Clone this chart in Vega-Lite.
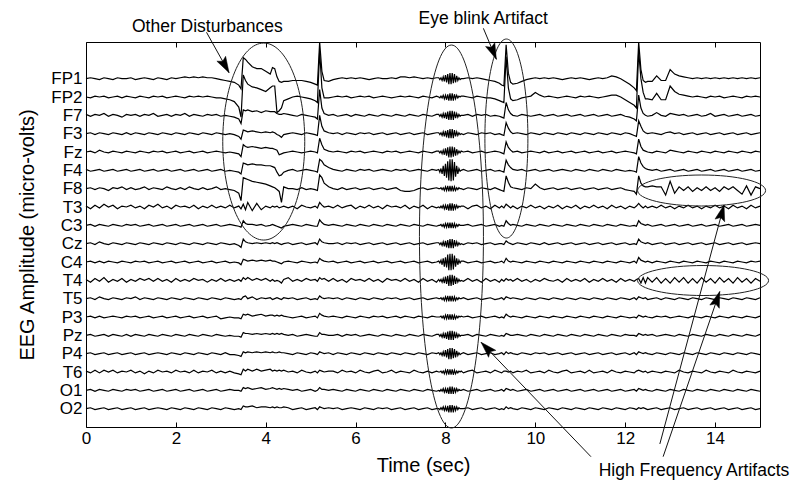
{
"$schema":"https://vega.github.io/schema/vega-lite/v6.json",
"width":674,"height":385,
"autosize":{"type":"none"},
"padding":{"left":86,"top":42,"right":35,"bottom":54},
"config":{"view":{"stroke":"black","strokeWidth":1},"font":"Liberation Sans","axis":{"labelFont":"Liberation Sans","titleFont":"Liberation Sans","labelColor":"black","titleColor":"black","tickColor":"black","domain":false,"grid":false,"titleFontWeight":"normal"}},
"datasets":{"eeg":[
{"t":0,"FP1":380,"FP2":360,"F7":341,"F3":320,"Fz":300,"F4":281,"F8":260,"T3":241,"C3":220,"Cz":200,"C4":180,"T4":161,"T5":140,"P3":120,"Pz":100,"P4":80,"T6":61,"O1":40,"O2":20},
{"t":0.1,"FP1":381,"FP2":359,"F7":339,"F3":321,"Fz":301,"F4":279,"F8":261,"T3":238,"C3":221,"Cz":201,"C4":181,"T4":158,"T5":141,"P3":121,"Pz":101,"P4":81,"T6":59,"O1":41,"O2":21},
{"t":0.2,"FP1":380,"FP2":361,"F7":341,"F3":319,"Fz":299,"F4":280,"F8":259,"T3":242,"C3":219,"Cz":199,"C4":179,"T4":162,"T5":139,"P3":119,"Pz":99,"P4":79,"T6":62,"O1":39,"O2":19},
{"t":0.3,"FP1":379,"FP2":360,"F7":340,"F3":321,"Fz":302,"F4":281,"F8":261,"T3":239,"C3":221,"Cz":202,"C4":181,"T4":159,"T5":142,"P3":121,"Pz":100,"P4":80,"T6":59,"O1":41,"O2":20},
{"t":0.4,"FP1":381,"FP2":361,"F7":342,"F3":320,"Fz":300,"F4":279,"F8":260,"T3":243,"C3":220,"Cz":200,"C4":179,"T4":163,"T5":140,"P3":119,"Pz":101,"P4":81,"T6":62,"O1":40,"O2":21},
{"t":0.5,"FP1":380,"FP2":359,"F7":339,"F3":319,"Fz":299,"F4":280,"F8":258,"T3":240,"C3":219,"Cz":199,"C4":181,"T4":158,"T5":139,"P3":120,"Pz":99,"P4":79,"T6":60,"O1":39,"O2":19},
{"t":0.6,"FP1":379,"FP2":360,"F7":341,"F3":321,"Fz":301,"F4":281,"F8":261,"T3":242,"C3":221,"Cz":201,"C4":180,"T4":161,"T5":141,"P3":121,"Pz":101,"P4":80,"T6":62,"O1":41,"O2":20},
{"t":0.7,"FP1":381,"FP2":361,"F7":340,"F3":320,"Fz":300,"F4":279,"F8":260,"T3":238,"C3":220,"Cz":200,"C4":179,"T4":159,"T5":140,"P3":120,"Pz":100,"P4":81,"T6":59,"O1":40,"O2":21},
{"t":0.8,"FP1":380,"FP2":359,"F7":338,"F3":319,"Fz":299,"F4":280,"F8":262,"T3":241,"C3":219,"Cz":199,"C4":181,"T4":162,"T5":139,"P3":119,"Pz":99,"P4":79,"T6":61,"O1":39,"O2":19},
{"t":0.9,"FP1":380,"FP2":361,"F7":341,"F3":321,"Fz":301,"F4":281,"F8":259,"T3":240,"C3":221,"Cz":201,"C4":180,"T4":158,"T5":141,"P3":121,"Pz":101,"P4":80,"T6":60,"O1":41,"O2":20},
{"t":1.0,"FP1":381,"FP2":360,"F7":340,"F3":319,"Fz":300,"F4":279,"F8":261,"T3":242,"C3":220,"Cz":200,"C4":179,"T4":161,"T5":140,"P3":120,"Pz":99,"P4":81,"T6":62,"O1":40,"O2":21},
{"t":1.1,"FP1":379,"FP2":359,"F7":341,"F3":321,"Fz":299,"F4":280,"F8":259,"T3":239,"C3":221,"Cz":199,"C4":181,"T4":159,"T5":142,"P3":121,"Pz":101,"P4":79,"T6":59,"O1":41,"O2":19},
{"t":1.2,"FP1":380,"FP2":361,"F7":339,"F3":320,"Fz":301,"F4":281,"F8":260,"T3":241,"C3":219,"Cz":201,"C4":180,"T4":162,"T5":139,"P3":119,"Pz":100,"P4":80,"T6":61,"O1":39,"O2":20},
{"t":1.3,"FP1":381,"FP2":360,"F7":341,"F3":319,"Fz":300,"F4":279,"F8":262,"T3":238,"C3":220,"Cz":200,"C4":181,"T4":160,"T5":141,"P3":120,"Pz":99,"P4":81,"T6":58,"O1":40,"O2":21},
{"t":1.4,"FP1":380,"FP2":359,"F7":340,"F3":321,"Fz":299,"F4":280,"F8":259,"T3":242,"C3":221,"Cz":199,"C4":179,"T4":162,"T5":140,"P3":121,"Pz":101,"P4":79,"T6":61,"O1":41,"O2":19},
{"t":1.5,"FP1":379,"FP2":361,"F7":342,"F3":320,"Fz":301,"F4":281,"F8":261,"T3":240,"C3":219,"Cz":201,"C4":180,"T4":159,"T5":139,"P3":119,"Pz":100,"P4":80,"T6":59,"O1":39,"O2":20},
{"t":1.6,"FP1":381,"FP2":360,"F7":339,"F3":319,"Fz":300,"F4":279,"F8":260,"T3":243,"C3":220,"Cz":200,"C4":181,"T4":162,"T5":141,"P3":120,"Pz":99,"P4":81,"T6":62,"O1":40,"O2":21},
{"t":1.7,"FP1":380,"FP2":361,"F7":340,"F3":321,"Fz":301,"F4":280,"F8":259,"T3":239,"C3":221,"Cz":199,"C4":179,"T4":159,"T5":140,"P3":121,"Pz":101,"P4":80,"T6":60,"O1":41,"O2":20},
{"t":1.8,"FP1":379,"FP2":359,"F7":341,"F3":320,"Fz":299,"F4":281,"F8":262,"T3":241,"C3":219,"Cz":201,"C4":180,"T4":161,"T5":139,"P3":119,"Pz":100,"P4":79,"T6":61,"O1":39,"O2":19},
{"t":1.9,"FP1":381,"FP2":360,"F7":339,"F3":319,"Fz":300,"F4":279,"F8":260,"T3":238,"C3":220,"Cz":200,"C4":181,"T4":158,"T5":141,"P3":120,"Pz":99,"P4":81,"T6":59,"O1":40,"O2":21},
{"t":2.0,"FP1":380,"FP2":361,"F7":341,"F3":321,"Fz":301,"F4":280,"F8":259,"T3":242,"C3":221,"Cz":199,"C4":179,"T4":162,"T5":140,"P3":121,"Pz":101,"P4":80,"T6":62,"O1":41,"O2":20},
{"t":2.1,"FP1":381,"FP2":360,"F7":340,"F3":320,"Fz":299,"F4":281,"F8":261,"T3":240,"C3":219,"Cz":201,"C4":180,"T4":159,"T5":139,"P3":119,"Pz":100,"P4":79,"T6":60,"O1":39,"O2":19},
{"t":2.2,"FP1":382,"FP2":359,"F7":342,"F3":319,"Fz":300,"F4":279,"F8":259,"T3":241,"C3":220,"Cz":200,"C4":181,"T4":161,"T5":141,"P3":120,"Pz":99,"P4":81,"T6":61,"O1":40,"O2":21},
{"t":2.3,"FP1":381,"FP2":361,"F7":339,"F3":321,"Fz":301,"F4":280,"F8":262,"T3":239,"C3":221,"Cz":199,"C4":179,"T4":159,"T5":140,"P3":121,"Pz":101,"P4":80,"T6":59,"O1":41,"O2":20},
{"t":2.4,"FP1":382,"FP2":360,"F7":341,"F3":320,"Fz":299,"F4":281,"F8":260,"T3":242,"C3":219,"Cz":201,"C4":180,"T4":162,"T5":139,"P3":119,"Pz":100,"P4":79,"T6":62,"O1":39,"O2":19},
{"t":2.5,"FP1":381,"FP2":361,"F7":340,"F3":319,"Fz":300,"F4":279,"F8":259,"T3":238,"C3":220,"Cz":200,"C4":181,"T4":160,"T5":141,"P3":120,"Pz":99,"P4":81,"T6":59,"O1":40,"O2":21},
{"t":2.6,"FP1":382,"FP2":360,"F7":339,"F3":321,"Fz":301,"F4":280,"F8":261,"T3":241,"C3":221,"Cz":199,"C4":179,"T4":161,"T5":140,"P3":121,"Pz":101,"P4":80,"T6":61,"O1":41,"O2":20},
{"t":2.7,"FP1":381,"FP2":361,"F7":341,"F3":320,"Fz":299,"F4":281,"F8":259,"T3":239,"C3":219,"Cz":201,"C4":180,"T4":158,"T5":139,"P3":119,"Pz":100,"P4":79,"T6":60,"O1":39,"O2":19},
{"t":2.8,"FP1":381,"FP2":360,"F7":340,"F3":319,"Fz":300,"F4":279,"F8":260,"T3":242,"C3":220,"Cz":200,"C4":181,"T4":161,"T5":141,"P3":120,"Pz":99,"P4":81,"T6":62,"O1":40,"O2":21},
{"t":2.9,"FP1":380,"FP2":359,"F7":341,"F3":321,"Fz":301,"F4":280,"F8":262,"T3":239,"C3":221,"Cz":199,"C4":179,"T4":159,"T5":140,"P3":121,"Pz":101,"P4":80,"T6":59,"O1":41,"O2":20},
{"t":3.0,"FP1":379,"FP2":359,"F7":339,"F3":320,"Fz":300,"F4":281,"F8":259,"T3":241,"C3":219,"Cz":201,"C4":180,"T4":162,"T5":139,"P3":118,"Pz":100,"P4":79,"T6":61,"O1":39,"O2":19},
{"t":3.1,"FP1":378,"FP2":358,"F7":340,"F3":319,"Fz":299,"F4":279,"F8":260,"T3":239,"C3":220,"Cz":200,"C4":181,"T4":159,"T5":141,"P3":119,"Pz":99,"P4":81,"T6":59,"O1":40,"O2":21},
{"t":3.2,"FP1":377,"FP2":357,"F7":339,"F3":320,"Fz":300,"F4":280,"F8":259,"T3":242,"C3":221,"Cz":199,"C4":179,"T4":161,"T5":140,"P3":120,"Pz":100,"P4":79,"T6":61,"O1":41,"O2":20},
{"t":3.3,"FP1":376,"FP2":355,"F7":338,"F3":319,"Fz":299,"F4":279,"F8":258,"T3":239,"C3":220,"Cz":200,"C4":180,"T4":159,"T5":139,"P3":119,"Pz":99,"P4":79,"T6":59,"O1":40,"O2":19},
{"t":3.4,"FP1":373,"FP2":349,"F7":336,"F3":317,"Fz":298,"F4":278,"F8":255,"T3":241,"C3":219,"Cz":198,"C4":179,"T4":161,"T5":140,"P3":119,"Pz":99,"P4":78,"T6":58,"O1":40,"O2":20},
{"t":3.45,"FP1":369,"FP2":338,"F7":331,"F3":314,"Fz":295,"F4":276,"F8":247,"T3":238,"C3":218,"Cz":196,"C4":177,"T4":159,"T5":139,"P3":118,"Pz":98,"P4":77,"T6":57,"O1":39,"O2":19},
{"t":3.5,"FP1":403,"FP2":384,"F7":346,"F3":324,"Fz":308,"F4":288,"F8":272,"T3":243,"C3":225,"Cz":205,"C4":183,"T4":163,"T5":142,"P3":123,"Pz":103,"P4":82,"T6":63,"O1":43,"O2":23},
{"t":3.55,"FP1":401,"FP2":378,"F7":345,"F3":323,"Fz":306,"F4":287,"F8":271,"T3":237,"C3":222,"Cz":202,"C4":182,"T4":161,"T5":143,"P3":122,"Pz":102,"P4":81,"T6":61,"O1":42,"O2":22},
{"t":3.6,"FP1":398,"FP2":374,"F7":346,"F3":322,"Fz":305,"F4":286,"F8":270,"T3":245,"C3":221,"Cz":201,"C4":181,"T4":163,"T5":140,"P3":123,"Pz":102,"P4":82,"T6":63,"O1":43,"O2":22},
{"t":3.7,"FP1":393,"FP2":371,"F7":344,"F3":323,"Fz":306,"F4":287,"F8":268,"T3":236,"C3":221,"Cz":200,"C4":182,"T4":160,"T5":142,"P3":121,"Pz":101,"P4":81,"T6":61,"O1":41,"O2":23},
{"t":3.8,"FP1":391,"FP2":370,"F7":345,"F3":322,"Fz":305,"F4":286,"F8":267,"T3":244,"C3":220,"Cz":201,"C4":181,"T4":162,"T5":139,"P3":122,"Pz":102,"P4":82,"T6":63,"O1":42,"O2":21},
{"t":3.9,"FP1":391,"FP2":368,"F7":343,"F3":321,"Fz":304,"F4":286,"F8":266,"T3":237,"C3":221,"Cz":200,"C4":182,"T4":160,"T5":141,"P3":123,"Pz":101,"P4":81,"T6":61,"O1":43,"O2":22},
{"t":4.0,"FP1":388,"FP2":366,"F7":345,"F3":322,"Fz":305,"F4":285,"F8":265,"T3":241,"C3":219,"Cz":201,"C4":181,"T4":162,"T5":140,"P3":121,"Pz":102,"P4":82,"T6":62,"O1":41,"O2":22},
{"t":4.1,"FP1":385,"FP2":370,"F7":344,"F3":321,"Fz":304,"F4":285,"F8":263,"T3":239,"C3":220,"Cz":200,"C4":182,"T4":159,"T5":141,"P3":122,"Pz":101,"P4":81,"T6":63,"O1":42,"O2":21},
{"t":4.15,"FP1":392,"FP2":372,"F7":344,"F3":322,"Fz":304,"F4":284,"F8":262,"T3":241,"C3":221,"Cz":201,"C4":181,"T4":161,"T5":139,"P3":122,"Pz":102,"P4":82,"T6":61,"O1":43,"O2":22},
{"t":4.2,"FP1":391,"FP2":372,"F7":344,"F3":321,"Fz":303,"F4":283,"F8":261,"T3":240,"C3":220,"Cz":200,"C4":181,"T4":159,"T5":140,"P3":121,"Pz":101,"P4":81,"T6":62,"O1":42,"O2":21},
{"t":4.25,"FP1":382,"FP2":343,"F7":342,"F3":319,"Fz":302,"F4":278,"F8":259,"T3":241,"C3":219,"Cz":201,"C4":180,"T4":160,"T5":141,"P3":122,"Pz":102,"P4":81,"T6":61,"O1":41,"O2":22},
{"t":4.3,"FP1":377,"FP2":345,"F7":341,"F3":318,"Fz":297,"F4":274,"F8":257,"T3":239,"C3":218,"Cz":200,"C4":179,"T4":159,"T5":140,"P3":121,"Pz":101,"P4":82,"T6":62,"O1":42,"O2":21},
{"t":4.35,"FP1":376,"FP2":348,"F7":341,"F3":316,"Fz":298,"F4":275,"F8":245,"T3":240,"C3":217,"Cz":199,"C4":178,"T4":157,"T5":139,"P3":122,"Pz":102,"P4":81,"T6":61,"O1":41,"O2":21},
{"t":4.4,"FP1":377,"FP2":356,"F7":342,"F3":319,"Fz":299,"F4":278,"F8":262,"T3":241,"C3":219,"Cz":200,"C4":180,"T4":161,"T5":141,"P3":121,"Pz":101,"P4":81,"T6":62,"O1":42,"O2":22},
{"t":4.5,"FP1":377,"FP2":358,"F7":341,"F3":320,"Fz":300,"F4":280,"F8":260,"T3":239,"C3":220,"Cz":201,"C4":181,"T4":163,"T5":140,"P3":120,"Pz":100,"P4":80,"T6":60,"O1":41,"O2":21},
{"t":4.6,"FP1":378,"FP2":360,"F7":340,"F3":321,"Fz":301,"F4":281,"F8":260,"T3":241,"C3":221,"Cz":199,"C4":180,"T4":159,"T5":141,"P3":119,"Pz":101,"P4":79,"T6":61,"O1":40,"O2":19},
{"t":4.7,"FP1":378,"FP2":361,"F7":339,"F3":320,"Fz":300,"F4":279,"F8":259,"T3":238,"C3":220,"Cz":200,"C4":179,"T4":161,"T5":139,"P3":120,"Pz":99,"P4":81,"T6":59,"O1":41,"O2":20},
{"t":4.8,"FP1":378,"FP2":360,"F7":341,"F3":319,"Fz":299,"F4":280,"F8":261,"T3":242,"C3":219,"Cz":201,"C4":181,"T4":159,"T5":140,"P3":121,"Pz":100,"P4":80,"T6":62,"O1":39,"O2":21},
{"t":4.9,"FP1":377,"FP2":359,"F7":340,"F3":321,"Fz":300,"F4":281,"F8":259,"T3":240,"C3":221,"Cz":199,"C4":180,"T4":162,"T5":141,"P3":119,"Pz":101,"P4":79,"T6":60,"O1":40,"O2":19},
{"t":5.0,"FP1":376,"FP2":358,"F7":339,"F3":320,"Fz":301,"F4":280,"F8":260,"T3":239,"C3":220,"Cz":200,"C4":179,"T4":160,"T5":139,"P3":120,"Pz":100,"P4":81,"T6":59,"O1":41,"O2":20},
{"t":5.1,"FP1":374,"FP2":356,"F7":338,"F3":319,"Fz":300,"F4":279,"F8":259,"T3":241,"C3":219,"Cz":201,"C4":180,"T4":161,"T5":140,"P3":121,"Pz":99,"P4":80,"T6":61,"O1":39,"O2":21},
{"t":5.15,"FP1":373,"FP2":354,"F7":336,"F3":318,"Fz":299,"F4":278,"F8":258,"T3":239,"C3":219,"Cz":199,"C4":179,"T4":159,"T5":139,"P3":119,"Pz":99,"P4":79,"T6":59,"O1":40,"O2":19},
{"t":5.2,"FP1":420,"FP2":410,"F7":368,"F3":340,"Fz":315,"F4":292,"F8":275,"T3":245,"C3":226,"Cz":205,"C4":184,"T4":163,"T5":143,"P3":124,"Pz":103,"P4":82,"T6":62,"O1":43,"O2":22},
{"t":5.25,"FP1":388,"FP2":370,"F7":348,"F3":328,"Fz":308,"F4":290,"F8":272,"T3":242,"C3":223,"Cz":202,"C4":182,"T4":161,"T5":141,"P3":122,"Pz":101,"P4":81,"T6":61,"O1":41,"O2":21},
{"t":5.3,"FP1":378,"FP2":359,"F7":342,"F3":323,"Fz":303,"F4":286,"F8":266,"T3":240,"C3":221,"Cz":201,"C4":181,"T4":162,"T5":140,"P3":121,"Pz":101,"P4":80,"T6":60,"O1":41,"O2":20},
{"t":5.4,"FP1":377,"FP2":359,"F7":340,"F3":321,"Fz":301,"F4":283,"F8":262,"T3":241,"C3":220,"Cz":200,"C4":180,"T4":159,"T5":141,"P3":120,"Pz":100,"P4":81,"T6":61,"O1":40,"O2":21},
{"t":5.5,"FP1":379,"FP2":360,"F7":341,"F3":320,"Fz":300,"F4":281,"F8":260,"T3":239,"C3":221,"Cz":200,"C4":181,"T4":162,"T5":140,"P3":121,"Pz":100,"P4":79,"T6":61,"O1":41,"O2":20},
{"t":5.6,"FP1":380,"FP2":361,"F7":339,"F3":321,"Fz":301,"F4":280,"F8":259,"T3":242,"C3":220,"Cz":201,"C4":179,"T4":159,"T5":141,"P3":120,"Pz":101,"P4":81,"T6":59,"O1":40,"O2":21},
{"t":5.7,"FP1":381,"FP2":360,"F7":340,"F3":319,"Fz":300,"F4":279,"F8":261,"T3":239,"C3":219,"Cz":199,"C4":180,"T4":161,"T5":139,"P3":119,"Pz":99,"P4":80,"T6":62,"O1":39,"O2":19},
{"t":5.8,"FP1":380,"FP2":361,"F7":341,"F3":321,"Fz":299,"F4":281,"F8":259,"T3":241,"C3":221,"Cz":201,"C4":181,"T4":158,"T5":141,"P3":121,"Pz":101,"P4":79,"T6":60,"O1":41,"O2":20},
{"t":5.9,"FP1":381,"FP2":359,"F7":339,"F3":320,"Fz":301,"F4":280,"F8":260,"T3":242,"C3":220,"Cz":200,"C4":179,"T4":162,"T5":140,"P3":120,"Pz":100,"P4":81,"T6":61,"O1":40,"O2":21},
{"t":6.0,"FP1":380,"FP2":360,"F7":341,"F3":319,"Fz":300,"F4":279,"F8":261,"T3":238,"C3":219,"Cz":201,"C4":180,"T4":160,"T5":139,"P3":119,"Pz":101,"P4":80,"T6":59,"O1":39,"O2":20},
{"t":6.1,"FP1":381,"FP2":361,"F7":340,"F3":321,"Fz":301,"F4":281,"F8":259,"T3":241,"C3":221,"Cz":199,"C4":181,"T4":161,"T5":141,"P3":121,"Pz":99,"P4":79,"T6":62,"O1":41,"O2":19},
{"t":6.2,"FP1":380,"FP2":360,"F7":339,"F3":320,"Fz":299,"F4":280,"F8":260,"T3":239,"C3":220,"Cz":200,"C4":179,"T4":159,"T5":140,"P3":120,"Pz":100,"P4":81,"T6":60,"O1":40,"O2":21},
{"t":6.3,"FP1":379,"FP2":361,"F7":341,"F3":321,"Fz":300,"F4":281,"F8":261,"T3":242,"C3":219,"Cz":201,"C4":180,"T4":162,"T5":139,"P3":119,"Pz":101,"P4":80,"T6":59,"O1":39,"O2":20},
{"t":6.4,"FP1":380,"FP2":359,"F7":340,"F3":319,"Fz":301,"F4":279,"F8":259,"T3":239,"C3":221,"Cz":199,"C4":181,"T4":159,"T5":141,"P3":121,"Pz":100,"P4":79,"T6":61,"O1":41,"O2":19},
{"t":6.5,"FP1":381,"FP2":360,"F7":339,"F3":320,"Fz":300,"F4":280,"F8":260,"T3":241,"C3":220,"Cz":200,"C4":179,"T4":161,"T5":140,"P3":120,"Pz":99,"P4":81,"T6":62,"O1":40,"O2":21},
{"t":6.6,"FP1":380,"FP2":361,"F7":341,"F3":321,"Fz":299,"F4":281,"F8":261,"T3":238,"C3":219,"Cz":201,"C4":180,"T4":158,"T5":139,"P3":121,"Pz":101,"P4":80,"T6":59,"O1":39,"O2":20},
{"t":6.7,"FP1":380,"FP2":360,"F7":340,"F3":319,"Fz":301,"F4":280,"F8":259,"T3":242,"C3":221,"Cz":199,"C4":181,"T4":162,"T5":141,"P3":119,"Pz":100,"P4":79,"T6":60,"O1":41,"O2":21},
{"t":6.8,"FP1":381,"FP2":359,"F7":339,"F3":320,"Fz":300,"F4":279,"F8":260,"T3":240,"C3":220,"Cz":200,"C4":179,"T4":160,"T5":140,"P3":120,"Pz":99,"P4":81,"T6":62,"O1":40,"O2":19},
{"t":6.9,"FP1":380,"FP2":360,"F7":341,"F3":321,"Fz":301,"F4":281,"F8":261,"T3":241,"C3":219,"Cz":201,"C4":180,"T4":161,"T5":141,"P3":121,"Pz":101,"P4":80,"T6":59,"O1":39,"O2":20},
{"t":7.0,"FP1":382,"FP2":361,"F7":340,"F3":319,"Fz":299,"F4":280,"F8":258,"T3":239,"C3":221,"Cz":199,"C4":181,"T4":159,"T5":139,"P3":119,"Pz":100,"P4":79,"T6":61,"O1":41,"O2":21},
{"t":7.1,"FP1":382,"FP2":360,"F7":339,"F3":320,"Fz":300,"F4":281,"F8":257,"T3":242,"C3":220,"Cz":200,"C4":179,"T4":162,"T5":140,"P3":121,"Pz":99,"P4":81,"T6":60,"O1":40,"O2":19},
{"t":7.2,"FP1":381,"FP2":361,"F7":341,"F3":321,"Fz":301,"F4":279,"F8":257,"T3":238,"C3":219,"Cz":201,"C4":180,"T4":159,"T5":141,"P3":120,"Pz":101,"P4":80,"T6":59,"O1":39,"O2":20},
{"t":7.3,"FP1":382,"FP2":360,"F7":340,"F3":319,"Fz":300,"F4":280,"F8":258,"T3":241,"C3":221,"Cz":199,"C4":181,"T4":161,"T5":139,"P3":119,"Pz":100,"P4":79,"T6":62,"O1":41,"O2":21},
{"t":7.4,"FP1":381,"FP2":359,"F7":339,"F3":320,"Fz":299,"F4":281,"F8":260,"T3":239,"C3":220,"Cz":200,"C4":179,"T4":158,"T5":140,"P3":121,"Pz":99,"P4":81,"T6":60,"O1":40,"O2":19},
{"t":7.5,"FP1":380,"FP2":361,"F7":341,"F3":321,"Fz":301,"F4":280,"F8":261,"T3":242,"C3":219,"Cz":201,"C4":180,"T4":162,"T5":141,"P3":120,"Pz":101,"P4":80,"T6":59,"O1":39,"O2":20},
{"t":7.6,"FP1":381,"FP2":360,"F7":340,"F3":319,"Fz":300,"F4":279,"F8":259,"T3":238,"C3":221,"Cz":199,"C4":181,"T4":159,"T5":139,"P3":119,"Pz":100,"P4":79,"T6":61,"O1":41,"O2":21},
{"t":7.7,"FP1":380,"FP2":359,"F7":339,"F3":320,"Fz":299,"F4":281,"F8":260,"T3":241,"C3":220,"Cz":200,"C4":179,"T4":161,"T5":140,"P3":121,"Pz":99,"P4":81,"T6":59,"O1":40,"O2":19},
{"t":7.8,"FP1":381,"FP2":361,"F7":341,"F3":321,"Fz":301,"F4":280,"F8":261,"T3":239,"C3":219,"Cz":201,"C4":180,"T4":158,"T5":141,"P3":120,"Pz":101,"P4":80,"T6":61,"O1":39,"O2":20},
{"t":7.85,"FP1":381,"FP2":360,"F7":341,"F3":321,"Fz":301,"F4":281,"F8":260,"T3":240,"C3":220,"Cz":201,"C4":181,"T4":161,"T5":140,"P3":120,"Pz":101,"P4":81,"T6":60,"O1":40,"O2":20},
{"t":7.875,"FP1":379,"FP2":359,"F7":339,"F3":319,"Fz":299,"F4":278,"F8":260,"T3":239,"C3":220,"Cz":199,"C4":179,"T4":159,"T5":140,"P3":120,"Pz":99,"P4":79,"T6":60,"O1":39,"O2":19},
{"t":7.9,"FP1":381,"FP2":361,"F7":341,"F3":321,"Fz":301,"F4":282,"F8":261,"T3":241,"C3":221,"Cz":201,"C4":182,"T4":161,"T5":141,"P3":121,"Pz":101,"P4":81,"T6":61,"O1":41,"O2":21},
{"t":7.925,"FP1":378,"FP2":359,"F7":338,"F3":318,"Fz":298,"F4":276,"F8":259,"T3":239,"C3":219,"Cz":198,"C4":177,"T4":158,"T5":139,"P3":119,"Pz":98,"P4":78,"T6":59,"O1":39,"O2":19},
{"t":7.95,"FP1":382,"FP2":362,"F7":342,"F3":322,"Fz":302,"F4":285,"F8":261,"T3":242,"C3":221,"Cz":202,"C4":184,"T4":162,"T5":141,"P3":121,"Pz":102,"P4":82,"T6":61,"O1":42,"O2":22},
{"t":7.975,"FP1":377,"FP2":358,"F7":337,"F3":317,"Fz":297,"F4":274,"F8":258,"T3":238,"C3":218,"Cz":197,"C4":175,"T4":157,"T5":138,"P3":118,"Pz":97,"P4":77,"T6":58,"O1":38,"O2":18},
{"t":8.0,"FP1":384,"FP2":362,"F7":343,"F3":323,"Fz":304,"F4":287,"F8":262,"T3":242,"C3":222,"Cz":203,"C4":185,"T4":164,"T5":142,"P3":122,"Pz":103,"P4":84,"T6":62,"O1":42,"O2":22},
{"t":8.025,"FP1":376,"FP2":357,"F7":336,"F3":316,"Fz":296,"F4":272,"F8":258,"T3":237,"C3":218,"Cz":196,"C4":174,"T4":156,"T5":138,"P3":118,"Pz":96,"P4":76,"T6":58,"O1":37,"O2":17},
{"t":8.05,"FP1":385,"FP2":363,"F7":344,"F3":324,"Fz":305,"F4":290,"F8":263,"T3":243,"C3":223,"Cz":204,"C4":188,"T4":165,"T5":143,"P3":123,"Pz":104,"P4":85,"T6":63,"O1":43,"O2":23},
{"t":8.075,"FP1":374,"FP2":356,"F7":335,"F3":315,"Fz":294,"F4":269,"F8":257,"T3":236,"C3":217,"Cz":195,"C4":171,"T4":154,"T5":137,"P3":117,"Pz":95,"P4":74,"T6":57,"O1":36,"O2":16},
{"t":8.1,"FP1":386,"FP2":364,"F7":345,"F3":325,"Fz":306,"F4":292,"F8":263,"T3":244,"C3":223,"Cz":205,"C4":189,"T4":166,"T5":143,"P3":123,"Pz":105,"P4":86,"T6":63,"O1":44,"O2":24},
{"t":8.125,"FP1":374,"FP2":356,"F7":335,"F3":315,"Fz":294,"F4":268,"F8":257,"T3":236,"C3":217,"Cz":195,"C4":171,"T4":154,"T5":137,"P3":117,"Pz":95,"P4":74,"T6":57,"O1":36,"O2":16},
{"t":8.15,"FP1":386,"FP2":364,"F7":345,"F3":325,"Fz":306,"F4":292,"F8":263,"T3":244,"C3":223,"Cz":205,"C4":189,"T4":166,"T5":143,"P3":123,"Pz":105,"P4":86,"T6":63,"O1":44,"O2":24},
{"t":8.175,"FP1":375,"FP2":356,"F7":335,"F3":315,"Fz":295,"F4":269,"F8":257,"T3":236,"C3":217,"Cz":195,"C4":172,"T4":155,"T5":137,"P3":117,"Pz":95,"P4":75,"T6":57,"O1":36,"O2":16},
{"t":8.2,"FP1":385,"FP2":363,"F7":344,"F3":324,"Fz":305,"F4":289,"F8":262,"T3":243,"C3":222,"Cz":204,"C4":187,"T4":165,"T5":142,"P3":122,"Pz":104,"P4":85,"T6":62,"O1":43,"O2":23},
{"t":8.225,"FP1":376,"FP2":358,"F7":337,"F3":317,"Fz":296,"F4":273,"F8":258,"T3":238,"C3":218,"Cz":197,"C4":175,"T4":156,"T5":138,"P3":118,"Pz":97,"P4":76,"T6":58,"O1":38,"O2":18},
{"t":8.25,"FP1":383,"FP2":362,"F7":342,"F3":322,"Fz":303,"F4":285,"F8":261,"T3":242,"C3":221,"Cz":202,"C4":184,"T4":163,"T5":141,"P3":121,"Pz":102,"P4":83,"T6":61,"O1":42,"O2":22},
{"t":8.275,"FP1":378,"FP2":359,"F7":338,"F3":318,"Fz":298,"F4":276,"F8":259,"T3":239,"C3":219,"Cz":198,"C4":177,"T4":158,"T5":139,"P3":119,"Pz":98,"P4":78,"T6":59,"O1":39,"O2":19},
{"t":8.3,"FP1":381,"FP2":361,"F7":341,"F3":321,"Fz":301,"F4":282,"F8":261,"T3":241,"C3":221,"Cz":201,"C4":182,"T4":161,"T5":141,"P3":121,"Pz":101,"P4":81,"T6":61,"O1":41,"O2":21},
{"t":8.325,"FP1":379,"FP2":360,"F7":339,"F3":319,"Fz":299,"F4":279,"F8":260,"T3":240,"C3":220,"Cz":199,"C4":179,"T4":159,"T5":140,"P3":120,"Pz":99,"P4":79,"T6":60,"O1":40,"O2":20},
{"t":8.35,"FP1":380,"FP2":361,"F7":340,"F3":320,"Fz":301,"F4":280,"F8":260,"T3":241,"C3":220,"Cz":200,"C4":181,"T4":160,"T5":140,"P3":121,"Pz":100,"P4":80,"T6":61,"O1":40,"O2":20},
{"t":8.4,"FP1":380,"FP2":361,"F7":340,"F3":319,"Fz":300,"F4":281,"F8":259,"T3":241,"C3":220,"Cz":199,"C4":181,"T4":159,"T5":141,"P3":120,"Pz":100,"P4":81,"T6":59,"O1":41,"O2":20},
{"t":8.5,"FP1":381,"FP2":360,"F7":341,"F3":321,"Fz":301,"F4":279,"F8":261,"T3":238,"C3":221,"Cz":201,"C4":179,"T4":162,"T5":139,"P3":121,"Pz":101,"P4":79,"T6":61,"O1":39,"O2":21},
{"t":8.6,"FP1":380,"FP2":359,"F7":339,"F3":320,"Fz":299,"F4":280,"F8":260,"T3":241,"C3":219,"Cz":200,"C4":180,"T4":159,"T5":140,"P3":119,"Pz":99,"P4":80,"T6":62,"O1":40,"O2":19},
{"t":8.7,"FP1":381,"FP2":361,"F7":341,"F3":319,"Fz":300,"F4":281,"F8":259,"T3":242,"C3":220,"Cz":201,"C4":181,"T4":161,"T5":141,"P3":120,"Pz":101,"P4":81,"T6":59,"O1":41,"O2":20},
{"t":8.8,"FP1":380,"FP2":360,"F7":340,"F3":321,"Fz":301,"F4":279,"F8":261,"T3":239,"C3":221,"Cz":199,"C4":179,"T4":158,"T5":139,"P3":121,"Pz":100,"P4":79,"T6":60,"O1":39,"O2":21},
{"t":8.9,"FP1":379,"FP2":359,"F7":341,"F3":320,"Fz":299,"F4":280,"F8":260,"T3":241,"C3":219,"Cz":200,"C4":180,"T4":162,"T5":140,"P3":119,"Pz":99,"P4":80,"T6":61,"O1":40,"O2":19},
{"t":9.0,"FP1":378,"FP2":359,"F7":339,"F3":321,"Fz":300,"F4":281,"F8":259,"T3":238,"C3":220,"Cz":201,"C4":181,"T4":159,"T5":141,"P3":120,"Pz":101,"P4":81,"T6":59,"O1":41,"O2":20},
{"t":9.1,"FP1":377,"FP2":358,"F7":340,"F3":319,"Fz":301,"F4":279,"F8":261,"T3":242,"C3":221,"Cz":199,"C4":179,"T4":161,"T5":139,"P3":121,"Pz":100,"P4":79,"T6":62,"O1":39,"O2":21},
{"t":9.2,"FP1":375,"FP2":356,"F7":339,"F3":320,"Fz":300,"F4":280,"F8":259,"T3":239,"C3":219,"Cz":200,"C4":180,"T4":158,"T5":140,"P3":119,"Pz":99,"P4":80,"T6":60,"O1":40,"O2":19},
{"t":9.25,"FP1":373,"FP2":355,"F7":338,"F3":319,"Fz":299,"F4":279,"F8":258,"T3":241,"C3":220,"Cz":200,"C4":181,"T4":161,"T5":141,"P3":120,"Pz":100,"P4":81,"T6":59,"O1":41,"O2":20},
{"t":9.3,"FP1":372,"FP2":354,"F7":337,"F3":318,"Fz":298,"F4":278,"F8":257,"T3":239,"C3":219,"Cz":199,"C4":179,"T4":159,"T5":139,"P3":119,"Pz":99,"P4":79,"T6":61,"O1":39,"O2":19},
{"t":9.35,"FP1":417,"FP2":404,"F7":354,"F3":332,"Fz":311,"F4":291,"F8":274,"T3":243,"C3":225,"Cz":203,"C4":184,"T4":162,"T5":142,"P3":123,"Pz":102,"P4":82,"T6":61,"O1":42,"O2":22},
{"t":9.4,"FP1":386,"FP2":370,"F7":346,"F3":326,"Fz":305,"F4":286,"F8":267,"T3":241,"C3":222,"Cz":201,"C4":181,"T4":160,"T5":141,"P3":121,"Pz":101,"P4":80,"T6":60,"O1":41,"O2":20},
{"t":9.45,"FP1":376,"FP2":358,"F7":342,"F3":322,"Fz":302,"F4":283,"F8":262,"T3":239,"C3":220,"Cz":200,"C4":180,"T4":161,"T5":140,"P3":120,"Pz":100,"P4":81,"T6":61,"O1":40,"O2":21},
{"t":9.5,"FP1":374,"FP2":356,"F7":340,"F3":320,"Fz":300,"F4":281,"F8":261,"T3":241,"C3":221,"Cz":199,"C4":181,"T4":159,"T5":141,"P3":121,"Pz":100,"P4":80,"T6":59,"O1":41,"O2":20},
{"t":9.6,"FP1":375,"FP2":357,"F7":339,"F3":321,"Fz":301,"F4":280,"F8":260,"T3":238,"C3":220,"Cz":201,"C4":180,"T4":162,"T5":140,"P3":120,"Pz":101,"P4":79,"T6":61,"O1":39,"O2":19},
{"t":9.7,"FP1":377,"FP2":359,"F7":341,"F3":320,"Fz":299,"F4":281,"F8":259,"T3":241,"C3":219,"Cz":200,"C4":179,"T4":159,"T5":139,"P3":119,"Pz":100,"P4":81,"T6":60,"O1":40,"O2":21},
{"t":9.8,"FP1":379,"FP2":360,"F7":340,"F3":319,"Fz":300,"F4":279,"F8":261,"T3":239,"C3":221,"Cz":199,"C4":181,"T4":161,"T5":141,"P3":121,"Pz":99,"P4":80,"T6":62,"O1":41,"O2":20},
{"t":9.9,"FP1":380,"FP2":361,"F7":339,"F3":321,"Fz":301,"F4":280,"F8":260,"T3":242,"C3":220,"Cz":201,"C4":180,"T4":158,"T5":140,"P3":120,"Pz":101,"P4":79,"T6":59,"O1":39,"O2":19},
{"t":10.0,"FP1":381,"FP2":365,"F7":340,"F3":320,"Fz":300,"F4":281,"F8":265,"T3":239,"C3":219,"Cz":200,"C4":179,"T4":161,"T5":139,"P3":119,"Pz":100,"P4":81,"T6":60,"O1":40,"O2":21},
{"t":10.1,"FP1":380,"FP2":362,"F7":341,"F3":319,"Fz":299,"F4":279,"F8":261,"T3":241,"C3":221,"Cz":199,"C4":181,"T4":159,"T5":141,"P3":121,"Pz":99,"P4":80,"T6":61,"O1":41,"O2":20},
{"t":10.2,"FP1":381,"FP2":360,"F7":339,"F3":321,"Fz":301,"F4":280,"F8":259,"T3":238,"C3":220,"Cz":201,"C4":180,"T4":162,"T5":140,"P3":120,"Pz":101,"P4":81,"T6":59,"O1":39,"O2":19},
{"t":10.3,"FP1":380,"FP2":361,"F7":340,"F3":320,"Fz":299,"F4":281,"F8":260,"T3":241,"C3":219,"Cz":199,"C4":179,"T4":160,"T5":139,"P3":119,"Pz":100,"P4":79,"T6":62,"O1":40,"O2":21},
{"t":10.4,"FP1":381,"FP2":360,"F7":341,"F3":319,"Fz":300,"F4":279,"F8":261,"T3":239,"C3":221,"Cz":200,"C4":181,"T4":159,"T5":141,"P3":121,"Pz":99,"P4":80,"T6":60,"O1":41,"O2":20},
{"t":10.5,"FP1":380,"FP2":359,"F7":339,"F3":321,"Fz":301,"F4":280,"F8":259,"T3":242,"C3":220,"Cz":201,"C4":180,"T4":161,"T5":140,"P3":120,"Pz":101,"P4":81,"T6":59,"O1":39,"O2":19},
{"t":10.6,"FP1":379,"FP2":360,"F7":340,"F3":320,"Fz":299,"F4":281,"F8":260,"T3":238,"C3":219,"Cz":199,"C4":179,"T4":158,"T5":139,"P3":119,"Pz":100,"P4":79,"T6":61,"O1":40,"O2":21},
{"t":10.7,"FP1":380,"FP2":361,"F7":341,"F3":319,"Fz":300,"F4":280,"F8":261,"T3":241,"C3":221,"Cz":200,"C4":181,"T4":162,"T5":141,"P3":121,"Pz":99,"P4":80,"T6":62,"O1":41,"O2":20},
{"t":10.8,"FP1":381,"FP2":360,"F7":339,"F3":321,"Fz":301,"F4":279,"F8":259,"T3":239,"C3":220,"Cz":201,"C4":180,"T4":159,"T5":140,"P3":120,"Pz":101,"P4":81,"T6":59,"O1":39,"O2":19},
{"t":10.9,"FP1":380,"FP2":359,"F7":340,"F3":320,"Fz":299,"F4":281,"F8":260,"T3":242,"C3":219,"Cz":199,"C4":179,"T4":161,"T5":139,"P3":119,"Pz":100,"P4":79,"T6":60,"O1":40,"O2":21},
{"t":11.0,"FP1":381,"FP2":361,"F7":341,"F3":319,"Fz":300,"F4":280,"F8":261,"T3":238,"C3":221,"Cz":200,"C4":181,"T4":159,"T5":141,"P3":121,"Pz":99,"P4":80,"T6":61,"O1":41,"O2":20},
{"t":11.1,"FP1":380,"FP2":360,"F7":339,"F3":321,"Fz":301,"F4":279,"F8":259,"T3":241,"C3":220,"Cz":201,"C4":180,"T4":162,"T5":140,"P3":120,"Pz":101,"P4":81,"T6":59,"O1":39,"O2":19},
{"t":11.2,"FP1":379,"FP2":361,"F7":340,"F3":320,"Fz":299,"F4":281,"F8":260,"T3":239,"C3":219,"Cz":199,"C4":179,"T4":158,"T5":139,"P3":119,"Pz":100,"P4":79,"T6":62,"O1":40,"O2":21},
{"t":11.3,"FP1":380,"FP2":360,"F7":341,"F3":319,"Fz":300,"F4":280,"F8":261,"T3":242,"C3":221,"Cz":200,"C4":181,"T4":161,"T5":141,"P3":121,"Pz":99,"P4":80,"T6":59,"O1":41,"O2":20},
{"t":11.4,"FP1":381,"FP2":359,"F7":339,"F3":321,"Fz":301,"F4":279,"F8":259,"T3":239,"C3":220,"Cz":201,"C4":180,"T4":159,"T5":140,"P3":120,"Pz":101,"P4":81,"T6":60,"O1":39,"O2":19},
{"t":11.5,"FP1":380,"FP2":360,"F7":340,"F3":320,"Fz":299,"F4":281,"F8":260,"T3":241,"C3":219,"Cz":199,"C4":179,"T4":162,"T5":139,"P3":119,"Pz":100,"P4":79,"T6":61,"O1":40,"O2":21},
{"t":11.6,"FP1":381,"FP2":361,"F7":341,"F3":319,"Fz":300,"F4":280,"F8":261,"T3":238,"C3":221,"Cz":200,"C4":181,"T4":159,"T5":141,"P3":121,"Pz":99,"P4":80,"T6":59,"O1":41,"O2":20},
{"t":11.7,"FP1":383,"FP2":362,"F7":339,"F3":321,"Fz":301,"F4":279,"F8":259,"T3":242,"C3":220,"Cz":201,"C4":180,"T4":161,"T5":140,"P3":120,"Pz":101,"P4":81,"T6":62,"O1":39,"O2":19},
{"t":11.8,"FP1":382,"FP2":362,"F7":340,"F3":320,"Fz":299,"F4":281,"F8":260,"T3":239,"C3":219,"Cz":199,"C4":179,"T4":158,"T5":139,"P3":119,"Pz":100,"P4":79,"T6":60,"O1":40,"O2":21},
{"t":11.9,"FP1":380,"FP2":360,"F7":341,"F3":319,"Fz":300,"F4":280,"F8":261,"T3":241,"C3":221,"Cz":200,"C4":181,"T4":162,"T5":141,"P3":121,"Pz":99,"P4":80,"T6":59,"O1":41,"O2":20},
{"t":12.0,"FP1":377,"FP2":357,"F7":339,"F3":321,"Fz":301,"F4":279,"F8":259,"T3":238,"C3":220,"Cz":201,"C4":180,"T4":159,"T5":140,"P3":120,"Pz":101,"P4":81,"T6":61,"O1":39,"O2":19},
{"t":12.1,"FP1":374,"FP2":354,"F7":338,"F3":320,"Fz":300,"F4":280,"F8":258,"T3":241,"C3":219,"Cz":199,"C4":179,"T4":161,"T5":139,"P3":119,"Pz":100,"P4":79,"T6":60,"O1":40,"O2":21},
{"t":12.2,"FP1":370,"FP2":351,"F7":336,"F3":318,"Fz":299,"F4":279,"F8":257,"T3":239,"C3":220,"Cz":200,"C4":181,"T4":159,"T5":141,"P3":120,"Pz":100,"P4":81,"T6":59,"O1":41,"O2":20},
{"t":12.25,"FP1":367,"FP2":348,"F7":334,"F3":317,"Fz":298,"F4":278,"F8":254,"T3":241,"C3":219,"Cz":199,"C4":179,"T4":161,"T5":139,"P3":119,"Pz":99,"P4":79,"T6":61,"O1":39,"O2":19},
{"t":12.3,"FP1":420,"FP2":410,"F7":362,"F3":334,"Fz":314,"F4":295,"F8":274,"T3":244,"C3":225,"Cz":205,"C4":185,"T4":162,"T5":142,"P3":122,"Pz":102,"P4":82,"T6":62,"O1":42,"O2":21},
{"t":12.35,"FP1":390,"FP2":380,"F7":348,"F3":328,"Fz":306,"F4":288,"F8":266,"T3":241,"C3":222,"Cz":202,"C4":182,"T4":157,"T5":141,"P3":121,"Pz":101,"P4":81,"T6":61,"O1":41,"O2":20},
{"t":12.4,"FP1":378,"FP2":365,"F7":342,"F3":323,"Fz":302,"F4":284,"F8":263,"T3":239,"C3":221,"Cz":201,"C4":181,"T4":163,"T5":140,"P3":120,"Pz":100,"P4":80,"T6":60,"O1":40,"O2":21},
{"t":12.45,"FP1":376,"FP2":358,"F7":340,"F3":321,"Fz":301,"F4":282,"F8":262,"T3":241,"C3":220,"Cz":200,"C4":180,"T4":157,"T5":141,"P3":121,"Pz":101,"P4":81,"T6":61,"O1":41,"O2":20},
{"t":12.5,"FP1":377,"FP2":358,"F7":339,"F3":320,"Fz":300,"F4":281,"F8":262,"T3":239,"C3":221,"Cz":201,"C4":181,"T4":163,"T5":139,"P3":120,"Pz":100,"P4":80,"T6":59,"O1":40,"O2":19},
{"t":12.6,"FP1":377,"FP2":357,"F7":340,"F3":321,"Fz":299,"F4":280,"F8":263,"T3":241,"C3":219,"Cz":199,"C4":179,"T4":158,"T5":140,"P3":119,"Pz":101,"P4":79,"T6":61,"O1":39,"O2":20},
{"t":12.7,"FP1":383,"FP2":364,"F7":343,"F3":320,"Fz":301,"F4":281,"F8":262,"T3":239,"C3":220,"Cz":200,"C4":181,"T4":163,"T5":141,"P3":121,"Pz":99,"P4":81,"T6":60,"O1":41,"O2":21},
{"t":12.8,"FP1":378,"FP2":357,"F7":340,"F3":319,"Fz":300,"F4":279,"F8":262,"T3":242,"C3":221,"Cz":201,"C4":180,"T4":157,"T5":139,"P3":120,"Pz":100,"P4":80,"T6":59,"O1":40,"O2":19},
{"t":12.9,"FP1":378,"FP2":357,"F7":339,"F3":321,"Fz":299,"F4":280,"F8":253,"T3":239,"C3":219,"Cz":199,"C4":179,"T4":162,"T5":141,"P3":121,"Pz":101,"P4":79,"T6":61,"O1":39,"O2":20},
{"t":13.0,"FP1":390,"FP2":372,"F7":342,"F3":322,"Fz":302,"F4":281,"F8":268,"T3":241,"C3":220,"Cz":200,"C4":181,"T4":157,"T5":140,"P3":119,"Pz":100,"P4":81,"T6":60,"O1":41,"O2":21},
{"t":13.1,"FP1":385,"FP2":366,"F7":341,"F3":320,"Fz":301,"F4":279,"F8":255,"T3":238,"C3":221,"Cz":201,"C4":180,"T4":163,"T5":139,"P3":120,"Pz":99,"P4":80,"T6":59,"O1":40,"O2":19},
{"t":13.2,"FP1":383,"FP2":363,"F7":340,"F3":321,"Fz":300,"F4":280,"F8":262,"T3":241,"C3":219,"Cz":199,"C4":179,"T4":158,"T5":141,"P3":121,"Pz":101,"P4":79,"T6":62,"O1":39,"O2":20},
{"t":13.3,"FP1":382,"FP2":362,"F7":341,"F3":319,"Fz":299,"F4":281,"F8":258,"T3":239,"C3":220,"Cz":200,"C4":181,"T4":163,"T5":140,"P3":120,"Pz":100,"P4":81,"T6":60,"O1":41,"O2":21},
{"t":13.4,"FP1":381,"FP2":361,"F7":339,"F3":320,"Fz":301,"F4":279,"F8":262,"T3":242,"C3":221,"Cz":201,"C4":180,"T4":157,"T5":139,"P3":119,"Pz":99,"P4":80,"T6":59,"O1":40,"O2":19},
{"t":13.5,"FP1":380,"FP2":360,"F7":340,"F3":321,"Fz":300,"F4":280,"F8":257,"T3":239,"C3":219,"Cz":199,"C4":179,"T4":162,"T5":141,"P3":121,"Pz":101,"P4":79,"T6":61,"O1":39,"O2":20},
{"t":13.6,"FP1":381,"FP2":361,"F7":341,"F3":319,"Fz":299,"F4":281,"F8":261,"T3":241,"C3":220,"Cz":200,"C4":181,"T4":157,"T5":140,"P3":120,"Pz":100,"P4":81,"T6":60,"O1":41,"O2":21},
{"t":13.7,"FP1":380,"FP2":360,"F7":339,"F3":320,"Fz":301,"F4":279,"F8":258,"T3":238,"C3":221,"Cz":201,"C4":180,"T4":163,"T5":139,"P3":119,"Pz":99,"P4":80,"T6":59,"O1":40,"O2":19},
{"t":13.8,"FP1":381,"FP2":359,"F7":340,"F3":321,"Fz":300,"F4":280,"F8":262,"T3":241,"C3":219,"Cz":199,"C4":179,"T4":158,"T5":141,"P3":121,"Pz":101,"P4":79,"T6":62,"O1":39,"O2":20},
{"t":13.9,"FP1":380,"FP2":361,"F7":342,"F3":319,"Fz":299,"F4":281,"F8":258,"T3":239,"C3":220,"Cz":200,"C4":181,"T4":162,"T5":140,"P3":120,"Pz":100,"P4":81,"T6":60,"O1":41,"O2":21},
{"t":14.0,"FP1":381,"FP2":360,"F7":339,"F3":320,"Fz":301,"F4":279,"F8":261,"T3":242,"C3":221,"Cz":201,"C4":180,"T4":157,"T5":139,"P3":119,"Pz":99,"P4":80,"T6":59,"O1":40,"O2":19},
{"t":14.1,"FP1":380,"FP2":361,"F7":340,"F3":321,"Fz":300,"F4":280,"F8":257,"T3":239,"C3":219,"Cz":199,"C4":179,"T4":163,"T5":141,"P3":121,"Pz":101,"P4":79,"T6":61,"O1":39,"O2":20},
{"t":14.2,"FP1":381,"FP2":359,"F7":341,"F3":319,"Fz":299,"F4":281,"F8":262,"T3":241,"C3":220,"Cz":200,"C4":181,"T4":158,"T5":140,"P3":120,"Pz":100,"P4":81,"T6":60,"O1":41,"O2":21},
{"t":14.3,"FP1":380,"FP2":360,"F7":339,"F3":320,"Fz":301,"F4":279,"F8":259,"T3":238,"C3":221,"Cz":201,"C4":180,"T4":162,"T5":139,"P3":119,"Pz":99,"P4":80,"T6":59,"O1":40,"O2":19},
{"t":14.4,"FP1":381,"FP2":361,"F7":340,"F3":321,"Fz":300,"F4":280,"F8":262,"T3":242,"C3":219,"Cz":199,"C4":179,"T4":157,"T5":141,"P3":121,"Pz":101,"P4":79,"T6":62,"O1":39,"O2":20},
{"t":14.5,"FP1":380,"FP2":360,"F7":341,"F3":319,"Fz":299,"F4":281,"F8":258,"T3":239,"C3":220,"Cz":200,"C4":181,"T4":163,"T5":140,"P3":120,"Pz":100,"P4":81,"T6":60,"O1":41,"O2":21},
{"t":14.6,"FP1":381,"FP2":359,"F7":339,"F3":320,"Fz":301,"F4":279,"F8":254,"T3":241,"C3":221,"Cz":201,"C4":180,"T4":158,"T5":139,"P3":119,"Pz":99,"P4":80,"T6":59,"O1":40,"O2":19},
{"t":14.7,"FP1":380,"FP2":361,"F7":340,"F3":321,"Fz":300,"F4":280,"F8":263,"T3":238,"C3":219,"Cz":199,"C4":179,"T4":162,"T5":141,"P3":121,"Pz":101,"P4":79,"T6":61,"O1":39,"O2":20},
{"t":14.8,"FP1":381,"FP2":360,"F7":341,"F3":319,"Fz":299,"F4":281,"F8":253,"T3":242,"C3":220,"Cz":200,"C4":181,"T4":157,"T5":140,"P3":120,"Pz":100,"P4":81,"T6":60,"O1":41,"O2":21},
{"t":14.9,"FP1":380,"FP2":361,"F7":339,"F3":320,"Fz":301,"F4":279,"F8":262,"T3":239,"C3":221,"Cz":201,"C4":180,"T4":162,"T5":139,"P3":119,"Pz":99,"P4":80,"T6":59,"O1":40,"O2":19},
{"t":15.0,"FP1":381,"FP2":360,"F7":340,"F3":321,"Fz":300,"F4":280,"F8":260,"T3":241,"C3":220,"Cz":200,"C4":181,"T4":159,"T5":141,"P3":121,"Pz":101,"P4":79,"T6":61,"O1":39,"O2":20}
]},
"resolve":{"axis":{"x":"independent","y":"independent"},"scale":{"shape":"independent"}},
"layer":[
{"data":{"name":"eeg"},
 "transform":[{"fold":["FP1","FP2","F7","F3","Fz","F4","F8","T3","C3","Cz","C4","T4","T5","P3","Pz","P4","T6","O1","O2"],"as":["ch","v"]}],
 "mark":{"type":"line","color":"black","strokeWidth":1.2},
 "encoding":{
  "x":{"field":"t","type":"quantitative","scale":{"domain":[0,15],"nice":false,"zero":false},
       "axis":{"values":[0,2,4,6,8,10,12,14],"tickSize":-5,"labelPadding":8,"labelFlush":false,"labelFontSize":17,"title":"Time (sec)","titleFontSize":20,"titlePadding":9}},
  "y":{"field":"v","type":"quantitative","scale":{"domain":[0,420],"nice":false,"zero":false},
       "axis":{"orient":"left","values":[20,40,60,80,100,120,140,160,180,200,220,240,260,280,300,320,340,360,380],
               "labelExpr":"['','O2','O1','T6','P4','Pz','P3','T5','T4','C4','Cz','C3','T3','F8','F4','Fz','F3','F7','FP2','FP1'][round(datum.value/20)]",
               "ticks":false,"labelPadding":4,"labelFontSize":17,"labelBaseline":"middle","title":"EEG Amplitude (micro-volts)","titleFontSize":20,"titlePadding":13}},
  "detail":{"field":"ch","type":"nominal"}
 }},
{"data":{"values":[
  {"id":"e1","t":3.956,"y":311.4},
  {"id":"e2","t":9.356,"y":314.7},
  {"id":"e3","t":8.133,"y":207.8},
  {"id":"e4","t":13.7,"y":258.0},
  {"id":"e5","t":13.733,"y":159.8}]},
 "mark":{"type":"point","filled":false,"size":4,"stroke":"#222","strokeWidth":1,"opacity":1},
 "encoding":{
  "x":{"field":"t","type":"quantitative","scale":{"domain":[0,15],"nice":false,"zero":false},
       "axis":{"orient":"top","values":[0,2,4,6,8,10,12,14],"tickSize":-5,"labels":false,"title":null}},
  "y":{"field":"y","type":"quantitative","scale":{"domain":[0,420],"nice":false,"zero":false},"axis":null},
  "shape":{"field":"id","type":"nominal","legend":null,"scale":{"domain":["e1","e2","e3","e4","e5"],"range":[
   "M41,0C41,54.4,22.64,98.5,0,98.5C-22.64,98.5,-41,54.4,-41,0C-41,-54.4,-22.64,-98.5,0,-98.5C22.64,-98.5,41,-54.4,41,0Z",
   "M21.5,0C21.5,54.95,11.87,99.5,0,99.5C-11.87,99.5,-21.5,54.95,-21.5,0C-21.5,-54.95,-11.87,-99.5,0,-99.5C11.87,-99.5,21.5,-54.95,21.5,0Z",
   "M32,0C32,105.77,17.67,191.5,0,191.5C-17.67,191.5,-32,105.77,-32,0C-32,-105.77,-17.67,-191.5,0,-191.5C17.67,-191.5,32,-105.77,32,0Z",
   "M64,0C64,8.56,35.35,15.5,0,15.5C-35.35,15.5,-64,8.56,-64,0C-64,-8.56,-35.35,-15.5,0,-15.5C35.35,-15.5,64,-8.56,64,0Z",
   "M65.5,0C65.5,8.28,36.18,15,0,15C-36.18,15,-65.5,8.28,-65.5,0C-65.5,-8.28,-36.18,-15,0,-15C36.18,-15,65.5,-8.28,65.5,0Z"]}}
 }},
{"data":{"values":[
  {"id":"a1","t":2.682,"y":430.6,"t2":3.184,"y2":386.5},
  {"id":"a2","t":8.844,"y":434.9,"t2":9.133,"y2":401.1},
  {"id":"a3","t":11.238,"y":-32.4,"t2":8.793,"y2":92.4},
  {"id":"a4","t":12.771,"y":-18.5,"t2":14.2,"y2":242.2},
  {"id":"a5","t":12.844,"y":-32.4,"t2":14.104,"y2":147.8}]},
 "mark":{"type":"rule","color":"#111","strokeWidth":1},
 "encoding":{
  "x":{"field":"t","type":"quantitative","scale":{"domain":[0,15],"nice":false,"zero":false},"axis":null},
  "y":{"field":"y","type":"quantitative","scale":{"domain":[0,420],"nice":false,"zero":false},"axis":null},
  "x2":{"field":"t2"},"y2":{"field":"y2"}}},
{"data":{"values":[
  {"id":"a1","t2":3.184,"y2":386.5},
  {"id":"a2","t2":9.133,"y2":401.1},
  {"id":"a3","t2":8.793,"y2":92.4},
  {"id":"a4","t2":14.2,"y2":242.2},
  {"id":"a5","t2":14.104,"y2":147.8}]},
 "mark":{"type":"point","filled":true,"size":4,"fill":"black","stroke":"black","strokeWidth":0.5,"opacity":1},
 "encoding":{
  "x":{"field":"t2","type":"quantitative","scale":{"domain":[0,15],"nice":false,"zero":false},"axis":null},
  "y":{"field":"y2","type":"quantitative","scale":{"domain":[0,420],"nice":false,"zero":false},"axis":null},
  "shape":{"field":"id","type":"nominal","legend":null,"scale":{"domain":["a1","a2","a3","a4","a5"],"range":[
   "M0,0L-12.18,-11.53L-6.34,-11.35L-3.44,-16.41Z",
   "M0,0L-10.8,-12.81L-5.03,-11.99L-1.58,-16.69Z",
   "M0,0L14.7,8.07L9.01,9.37L7.48,15.01Z",
   "M0,0L0.61,16.76L-3.43,12.55L-9.05,14.12Z",
   "M0,0L-0.44,16.76L-4.2,12.3L-9.9,13.52Z"]}}}},
{"data":{"values":[
  {"label":"Other Disturbances","t":2.7,"y":431},
  {"label":"Eye blink Artifact","t":8.84,"y":439.6},
  {"label":"High Frequency Artifacts","t":13.53,"y":-53.1}]},
 "mark":{"type":"text","font":"Liberation Sans","fontSize":17.5,"color":"black","align":"center","baseline":"alphabetic"},
 "encoding":{
  "x":{"field":"t","type":"quantitative","scale":{"domain":[0,15],"nice":false,"zero":false},"axis":null},
  "y":{"field":"y","type":"quantitative","scale":{"domain":[0,420],"nice":false,"zero":false},"axis":null},
  "text":{"field":"label"}}}
]
}
